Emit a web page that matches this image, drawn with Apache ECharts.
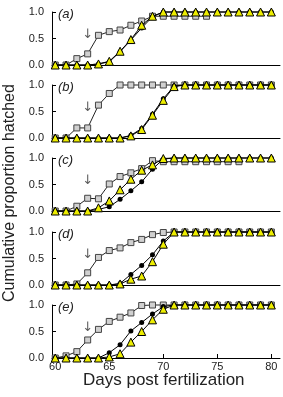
<!DOCTYPE html>
<html>
<head>
<meta charset="utf-8">
<script src="https://cdn.jsdelivr.net/npm/echarts@6/dist/echarts.min.js"></script>
<style>
html, body { margin: 0; padding: 0; background: #fff; }
#chart { width: 283px; height: 397px; }
</style>
</head>
<body>
<div id="chart"></div>
<script>
// days post fertilization
var days = [60, 61, 62, 63, 64, 65, 66, 67, 68, 69, 70, 71, 72, 73, 74, 75, 76, 77, 78, 79, 80];
var xTicks = [60, 65, 70, 75, 80];
var panelNames = ['a', 'b', 'c', 'd', 'e'];
var arrowDay = 63;

// grey squares
var sqA = [0, 0, 0.12, 0.21, 0.56, 0.63, 0.66, 0.75, 0.83, 0.92, 0.92, 0.92, 0.92, 0.92, 0.92, null, null, null, null, null, null];
var sqB = [0, 0, 0.19, 0.19, 0.62, 0.84, 1, 1, 1, 1, 1, 1, 1, 1, 1, 1, 1, 1, 1, 1, 1];
var sqC = [0, 0, 0.09, 0.24, 0.23, 0.51, 0.65, 0.72, 0.8, 0.95, 0.93, 0.93, 0.93, 0.93, 0.93, 0.93, 0.93, 0.93, null, null, null];
var sqD = [0, 0, 0.02, 0.23, 0.52, 0.65, 0.7, 0.8, 0.86, 0.95, 0.99, 1, 1, 1, 1, 1, 1, 1, 1, 1, 1];
var sqE = [0, 0.04, 0.12, 0.34, 0.54, 0.69, 0.77, 0.85, 0.99, 1, 1, 1, 1, 1, 1, 1, 1, 1, 1, 1, 1];

// black dots
var dotA = [0, 0, 0, 0, 0.02, 0.06, 0.25, 0.47, 0.7, 0.91, 1, 1, 1, 1, 1, 1, 1, 1, 1, 1, 1];
var dotB = [0, 0, 0, 0, 0, 0, 0, 0.05, 0.18, 0.45, 0.74, 0.98, 1, 1, 1, 1, 1, 1, 1, 1, 1];
var dotC = [0, 0, 0, 0, 0.03, 0.08, 0.22, 0.38, 0.55, 0.79, 0.98, 1, 1, 1, 1, 1, 1, 1, 1, 1, 1];
var dotD = [0, 0, 0, 0, 0, 0, 0.03, 0.2, 0.37, 0.57, 0.83, 1, 1, 1, 1, 1, 1, 1, 1, 1, 1];
var dotE = [0, 0, 0, 0, 0, 0.1, 0.25, 0.51, 0.67, 0.83, 0.97, 1, 1, 1, 1, 1, 1, 1, 1, 1, 1];

// yellow triangles
var triA = [0, 0, 0, 0, 0.02, 0.07, 0.26, 0.48, 0.75, 0.92, 1, 1, 1, 1, 1, 1, 1, 1, 1, 1, 1];
var triB = [0, 0, 0, 0, 0, 0, 0, 0.04, 0.16, 0.43, 0.71, 0.97, 1, 1, 1, 1, 1, 1, 1, 1, 1];
var triC = [0, 0, 0, 0, 0.06, 0.19, 0.4, 0.6, 0.77, 0.87, 0.99, 1, 1, 1, 1, 1, 1, 1, 1, 1, 1];
var triD = [0, 0, 0, 0, 0, 0, 0.02, 0.11, 0.17, 0.44, 0.77, 1, 1, 1, 1, 1, 1, 1, 1, 1, 1];
var triE = [0, 0, 0, 0, 0, 0.02, 0.08, 0.3, 0.5, 0.72, 0.92, 1, 1, 1, 1, 1, 1, 1, 1, 1, 1];

var squares = [sqA, sqB, sqC, sqD, sqE];
var dots = [dotA, dotB, dotC, dotD, dotE];
var triangles = [triA, triB, triC, triD, triE];

var font = '"Liberation Sans", Arial, sans-serif';
var panelBottoms = [65, 138, 211, 285, 358];
var panelH = 53;

function pairs(vals) {
    return days.map(function(d, i) { return [d, vals[i]]; });
}

var grids = [], xAxes = [], yAxes = [], series = [], graphics = [];

panelNames.forEach(function(name, i) {
    var last = i === panelNames.length - 1;
    grids.push({ left: 52, width: 228, top: panelBottoms[i] - panelH, height: panelH });
    xAxes.push({
        gridIndex: i, type: 'value', min: 59.7, max: 80.8,
        axisLine: { lineStyle: { color: '#000', width: 1 } },
        axisTick: { show: last, inside: true, length: 4, customValues: xTicks, lineStyle: { color: '#000' } },
        axisLabel: { show: last, customValues: xTicks, fontSize: 11, color: '#222', fontFamily: font, margin: 3 },
        splitLine: { show: false }
    });
    yAxes.push({
        gridIndex: i, type: 'value', min: 0, max: 1, interval: 0.5,
        axisLine: { show: true, lineStyle: { color: '#000', width: 1 } },
        axisTick: { show: true, inside: true, length: 4, lineStyle: { color: '#000' } },
        axisLabel: { fontSize: 11, color: '#222', fontFamily: font, margin: 8,
            formatter: function(v) { return v.toFixed(1); } },
        splitLine: { show: false }
    });
    series.push({
        type: 'line', xAxisIndex: i, yAxisIndex: i, data: pairs(squares[i]),
        symbol: 'rect', symbolSize: 6, clip: false, z: 2,
        lineStyle: { color: '#222', width: 1 },
        itemStyle: { color: '#d0d0d0', borderColor: '#444', borderWidth: 1 }
    });
    series.push({
        type: 'line', xAxisIndex: i, yAxisIndex: i, data: pairs(dots[i]),
        symbol: 'circle', symbolSize: 5, clip: false, z: 3,
        lineStyle: { color: '#000', width: 1 },
        itemStyle: { color: '#000', borderColor: '#000', borderWidth: 0 }
    });
    series.push({
        type: 'line', xAxisIndex: i, yAxisIndex: i, data: pairs(triangles[i]),
        symbol: 'triangle', symbolSize: 8, clip: false, z: 4,
        lineStyle: { color: '#000', width: 1 },
        itemStyle: { color: '#eded00', borderColor: '#000', borderWidth: 1 }
    });
    // arrow marking day 63
    series.push({
        type: 'scatter', xAxisIndex: i, yAxisIndex: i, data: [[arrowDay, 0.58]],
        symbolSize: 0, silent: true, z: 5,
        label: { show: true, position: 'inside', formatter: '\u2193', fontSize: 13, color: '#333', fontFamily: '"DejaVu Sans", sans-serif' }
    });
    graphics.push({
        type: 'text', left: 58, top: panelBottoms[i] - panelH - 4,
        style: { text: '(' + name + ')', font: 'italic 13px ' + font, fill: '#222' }
    });
});

graphics.push({
    type: 'text', left: 83, top: 372,
    style: { text: 'Days post fertilization', font: '17px ' + font, fill: '#222' }
});
graphics.push({
    type: 'text', rotation: Math.PI / 2, x: 2, y: 302,
    style: { text: 'Cumulative proportion hatched', font: '16px ' + font, fill: '#222' }
});

var chart = echarts.init(document.getElementById('chart'));
chart.setOption({
    animation: false,
    grid: grids,
    xAxis: xAxes,
    yAxis: yAxes,
    series: series,
    graphic: graphics
});
</script>
</body>
</html>
